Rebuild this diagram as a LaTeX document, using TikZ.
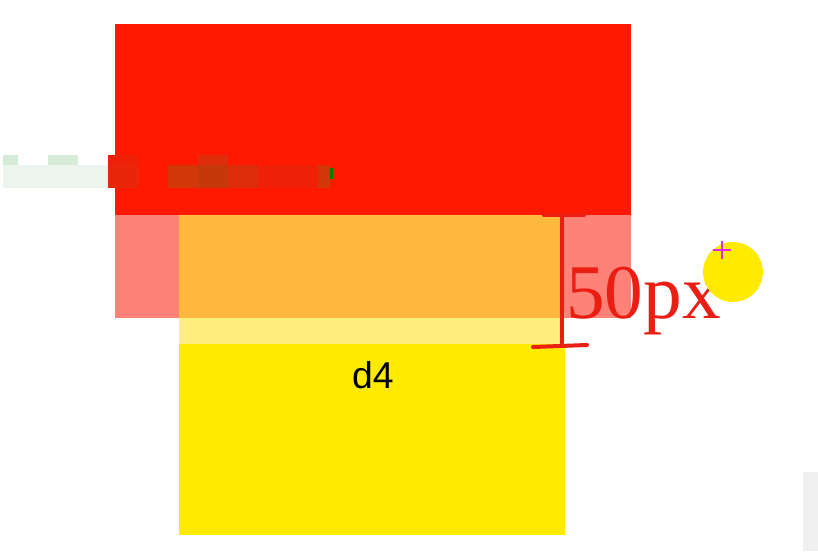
\documentclass[tikz,border=0pt]{standalone}
\usepackage{fontspec}
\setmainfont{Liberation Serif}
\setsansfont{Liberation Sans}
\definecolor{cred}{RGB}{255,25,0}
\definecolor{cpink}{RGB}{255,130,120}
\definecolor{corange}{RGB}{255,185,60}
\definecolor{clyellow}{RGB}{255,240,125}
\definecolor{cyellow}{RGB}{255,235,0}
\definecolor{cmark}{RGB}{235,30,20}
\definecolor{cmag}{RGB}{230,40,230}
\definecolor{cgreyb}{RGB}{240,240,240}
\definecolor{blurA}{RGB}{236,245,237}
\definecolor{blurB}{RGB}{214,236,217}
\definecolor{blurC}{RGB}{232,38,8}
\definecolor{blurD}{RGB}{210,55,10}
\definecolor{blurE}{RGB}{198,56,10}
\definecolor{blurF}{RGB}{222,45,10}
\definecolor{blurG}{RGB}{238,32,5}
\begin{document}
\begin{tikzpicture}[x=0.75pt,y=-0.75pt,
  box/.style={inner sep=0pt,outer sep=0pt},
  marker/.style={draw=cmark,line width=3pt,line cap=round}]
\useasboundingbox (0,0) rectangle (818,551);
\fill[white] (0,0) rectangle (818,551);
% boxes
\fill[cred] (115,24) rectangle (631,215);
\fill[cpink] (115,215) rectangle (631,318);
\fill[corange] (179,215) rectangle (560,318);
\fill[clyellow] (179,318) rectangle (560,344);
\fill[cyellow] (179,344) rectangle (565,535);
\node[box,font=\sffamily\fontsize{28}{32}\selectfont] (d4) at (373,375) {d4};
% blurred text
\fill[blurA] (3,165) rectangle (108,188);
\fill[blurB] (3,155) rectangle (18,165);
\fill[blurB] (48,155) rectangle (78,165);
\fill[blurC] (108,165) rectangle (138,188);
\fill[blurG] (108,155) rectangle (138,165);
\fill[blurD] (168,165) rectangle (198,188);
\fill[blurE] (198,165) rectangle (228,188);
\fill[blurF] (198,155) rectangle (228,165);
\fill[blurF] (228,165) rectangle (258,188);
\fill[blurG] (258,165) rectangle (318,188);
\fill[blurD] (318,165) rectangle (330,188);
\fill[green!50!black] (330,168) rectangle (333,179);
% measurement
\coordinate (mt) at (562,215);
\coordinate (mb) at (562,343);
\coordinate (tl) at (544,215);
\coordinate (tr) at (584,215);
\coordinate (bl) at (533,347);
\coordinate (br) at (587,345);
\draw[marker] (mt) -- (mb);
\draw[marker] (tl) -- (tr);
\draw[marker] (bl) -- (br);
\node[box,anchor=base west,text=cmark,font=\fontsize{58}{60}\selectfont] (lbl) at (566,318) {50px};
% yellow dot and cursor
\fill[cyellow] (733,272) circle (30);
\coordinate (px) at (722,250);
\draw[cmag,line width=2pt] ([xshift=-7]px) -- ([xshift=7]px) ([yshift=-7]px) -- ([yshift=7]px);
% grey bar
\fill[cgreyb] (803,472) rectangle (818,551);
\end{tikzpicture}
\end{document}
